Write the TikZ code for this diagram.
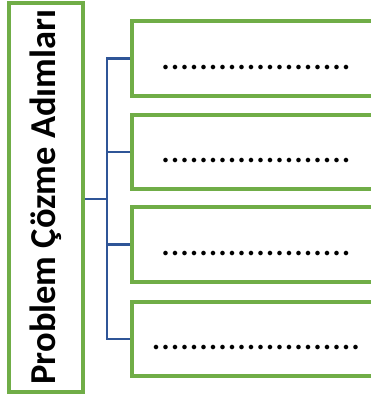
\documentclass[tikz,border=0pt]{standalone}
\usepackage{fontspec}
\setmainfont{Carlito}
\definecolor{boxgreen}{RGB}{112,173,71}
\definecolor{linkblue}{RGB}{47,85,151}
\begin{document}
\begin{tikzpicture}[x=1pt,y=-1pt,
  stepbox/.style={draw=boxgreen, line width=3.2pt, fill=white, minimum width=248pt,
    inner sep=0pt, text height=21pt, text depth=0pt,
    font=\fontsize{37.7}{40}\selectfont},
  mainbox/.style={draw=boxgreen, line width=3.2pt, minimum width=74pt, minimum height=389pt, inner sep=0pt},
  link/.style={draw=linkblue, line width=2.6pt}]
\clip (0,0) rectangle (371,400);
\fill[white] (0,0) rectangle (371,400);
\node[mainbox] (L) at (46,197.5) {};
\node[rotate=90, anchor=base, font=\fontsize{36.5}{40}\selectfont\bfseries] (T) at (56,197) {Problem Çözme Adımları};
\node[stepbox, minimum height=75pt] (B1) at (256,58.5) {....................};
\node[stepbox, minimum height=74pt] (B2) at (256,152) {....................};
\node[stepbox, minimum height=75pt] (B3) at (256,244.5) {....................};
\node[stepbox, minimum height=74pt] (B4) at (256,339) {......................};
\coordinate (t) at (107,199);
\draw[link] (L.east |- t) -- (t);
\draw[link] (B1.west) -- (B1.west -| t) -- (B4.west -| t) -- (B4.west);
\draw[link] (B2.west) -- (B2.west -| t);
\draw[link] (B3.west) -- (B3.west -| t);
\end{tikzpicture}
\end{document}
